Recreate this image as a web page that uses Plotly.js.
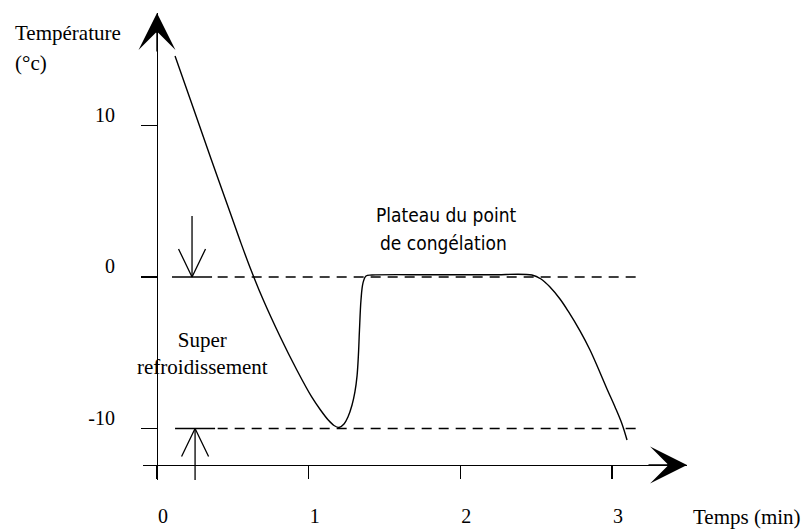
<!DOCTYPE html>
<html><head><meta charset="utf-8">
<script src="https://cdn.plot.ly/plotly-3.0.1.min.js"></script>
<style>html,body{margin:0;padding:0;background:#fff}#chart{width:803px;height:529px}</style>
</head><body><div id="chart"></div>
<script>
// Cooling curve (time in minutes, temperature in °C)
const timeMin = [0.119, 0.237, 0.359, 0.488, 0.551, 0.620, 0.701, 0.813, 0.922, 1.020, 1.078, 1.129, 1.167, 1.200, 1.233, 1.259, 1.286, 1.305, 1.319, 1.328, 1.335, 1.345, 1.358, 1.378, 1.418, 1.8, 2.2, 2.472, 2.532, 2.591, 2.657, 2.710, 2.789, 2.855, 2.908, 2.967, 3.020, 3.066, 3.099];
const tempC   = [14.59, 11.22, 7.72, 4.09, 2.31, 0.46, -1.52, -3.96, -6.14, -7.92, -8.78, -9.44, -9.80, -9.93, -9.70, -9.24, -8.45, -7.59, -6.53, -5.15, -3.50, -1.52, -0.40, 0.07, 0.13, 0.15, 0.15, 0.13, -0.13, -0.66, -1.45, -2.24, -3.56, -4.82, -6.01, -7.39, -8.58, -9.70, -10.76];

// Axis ticks
const xTickVals = [0, 1, 2, 3];
const xTickText = ['0', '1', '2', '3'];
const yTickVals = [10, 0, -10];
const yTickText = ['10', '0', '-10'];

// Reference levels (freezing point and supercooling minimum)
const refLevels = [0, -10];
const refSpan = [0.40, 3.2];

// Supercooling markers: x position, tip level, tail level
const markerX    = [0.231, 0.251];
const markerTip  = [0, -10];
const markerTail = [4.03, -13.4];

// Texts
const yTitleLines = ['Température', '(°c)'];
const xTitle = 'Temps (min)';
const plateauLines = ['Plateau du point', 'de congélation'];
const superText = 'Super<br>refroidissement';

const INK = '#000';
const serif = 'Liberation Serif, Times New Roman, serif';
const narrow = 'DejaVu Sans Condensed, Liberation Sans Narrow, sans-serif';

const traces = [];

// dashed reference lines
refLevels.forEach(v => {
  traces.push({x: refSpan, y: [v, v], mode: 'lines', hoverinfo: 'skip',
    line: {color: INK, width: 1.4, dash: '10px,7px'}});
});

// supercooling arrows (open V heads + bar)
markerX.forEach((xc, i) => {
  const tip = markerTip[i], tail = markerTail[i];
  const dir = tail > tip ? 1 : -1;
  const armDx = 0.089, armDt = 1.85 * dir, barHalf = 0.132;
  traces.push({
    x: [xc, xc, null, xc - armDx, xc, xc + armDx, null, xc - barHalf, xc + barHalf],
    y: [tail, tip, null, tip + armDt, tip, tip + armDt, null, tip, tip],
    mode: 'lines', hoverinfo: 'skip', line: {color: INK, width: 1.3}
  });
});

// main curve
traces.push({x: timeMin, y: tempC, mode: 'lines', hoverinfo: 'skip',
  line: {color: INK, width: 1.4, shape: 'spline', smoothing: 1}});

const layout = {
  width: 803, height: 529,
  margin: {l: 143, r: 116, t: 13, b: 49},
  paper_bgcolor: '#fff', plot_bgcolor: '#fff',
  showlegend: false,
  xaxis: {
    range: [-0.0923, 3.4945], anchor: 'free', position: 0.0321,
    showgrid: false, zeroline: false, showline: true, linecolor: INK, linewidth: 1.4,
    ticks: 'outside', ticklen: 13, tickwidth: 1.3, tickcolor: INK,
    tickvals: xTickVals, ticktext: xTickText,
    ticklabelstandoff: 20, ticklabelshift: 6,
    tickfont: {family: serif, size: 20, color: INK}
  },
  yaxis: {
    range: [-13.40, 17.43], anchor: 'free', position: 0.02574,
    showgrid: false, zeroline: false, showline: true, linecolor: INK, linewidth: 1.4,
    ticks: 'outside', ticklen: 16, tickwidth: 1.3, tickcolor: INK,
    tickvals: yTickVals, ticktext: yTickText,
    ticklabelstandoff: 22, ticklabelshift: -11,
    tickfont: {family: serif, size: 20, color: INK}
  },
  annotations: [
    // axis arrowheads
    {xref: 'paper', yref: 'paper', x: 0.02574, y: 1, ax: 0, ay: 40, text: '',
      showarrow: true, arrowhead: 3, arrowsize: 4.4, arrowwidth: 1.4, arrowcolor: INK},
    {xref: 'paper', yref: 'paper', x: 1, y: 0.0321, ax: -40, ay: 0, text: '',
      showarrow: true, arrowhead: 3, arrowsize: 4.4, arrowwidth: 1.4, arrowcolor: INK},
    // axis titles
    {xref: 'paper', yref: 'paper', x: -0.239, y: 0.957, xanchor: 'left', yanchor: 'middle',
      text: yTitleLines[0], showarrow: false, font: {family: serif, size: 21, color: INK}},
    {xref: 'paper', yref: 'paper', x: -0.239, y: 0.893, xanchor: 'left', yanchor: 'middle',
      text: yTitleLines[1], showarrow: false, font: {family: serif, size: 21, color: INK}},
    {xref: 'paper', yref: 'paper', x: 1.0074, y: -0.0792, xanchor: 'left', yanchor: 'middle',
      text: xTitle, showarrow: false, font: {family: serif, size: 21, color: INK}},
    // labels
    {x: 1.912, y: 4.09, text: plateauLines[0], showarrow: false,
      font: {family: narrow, size: 19, color: INK}},
    {x: 1.89, y: 2.24, text: plateauLines[1], showarrow: false,
      font: {family: narrow, size: 19, color: INK}},
    {x: 0.303, y: -5.05, text: superText, showarrow: false,
      font: {family: serif, size: 21, color: INK}}
  ]
};

Plotly.newPlot('chart', traces, layout, {staticPlot: true, displayModeBar: false});
</script></body></html>
